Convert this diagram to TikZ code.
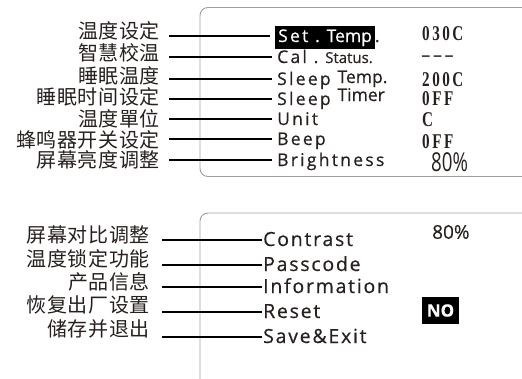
\documentclass[tikz,border=0pt]{standalone}
\usepackage{fontspec}
\newfontfamily\zhfont[LetterSpace=3]{Noto Sans CJK SC}
\newfontfamily\menufont[LetterSpace=13,FakeBold=0.5]{Open Sans}
\newfontfamily\listfont[LetterSpace=9,FakeBold=0.5]{Open Sans}
\newfontfamily\plainfont[FakeBold=0.4]{Open Sans}
\newfontfamily\valfont[FakeStretch=0.72,LetterSpace=12]{Liberation Serif}
\newfontfamily\pctfont[FakeStretch=0.72]{Open Sans}
\definecolor{ink}{RGB}{38,32,30}
\usetikzlibrary{positioning}

\begin{document}
\begin{tikzpicture}[x=1pt, y=-1pt,
  zh/.style={anchor=east, inner sep=0pt, text=ink,
             font=\zhfont\fontsize{20}{20}\selectfont},
  item/.style={anchor=west, inner sep=0pt, text height=12pt, text depth=0pt,
               text=ink, font=\menufont\fontsize{17.5}{17.5}\selectfont},
  entry/.style={item, font=\listfont\fontsize{19.5}{19.5}\selectfont},
  val/.style={anchor=west, inner sep=0pt, text=ink,
              font=\valfont\bfseries\fontsize{21}{21}\selectfont},
  lead/.style={line width=1.4pt, shorten <=9pt, shorten >=5pt},
  panel/.style={draw=gray!75, line width=0.9pt, rounded corners=8pt}]
  \clip (0,0) rectangle (522,378);
  \draw[panel] (200,7.5) rectangle (545,176.5);
  \draw[panel] (200,213) rectangle (545,420);

  \node[zh] (zset) at (160,31) {温度设定};
  \node[zh] (zcal) at (160,53) {智慧校温};
  \node[zh] (zstemp) at (160,76) {睡眠温度};
  \node[zh] (zstimer) at (160,97) {睡眠时间设定};
  \node[zh] (zunit) at (160,119) {温度單位};
  \node[zh] (zbeep) at (160,140) {蜂鸣器开关设定};
  \node[zh] (zbright) at (160,160) {屏幕亮度调整};

  \node[item] (settemp) at (275,36) {\colorbox{black}{\color{white}Set .~{\plainfont Temp}}.};
  \node[item] (cal) at (277,57) {Cal .~{\plainfont\fontsize{15}{15}\selectfont Status.}};
  \node[item] (stemp) at (277,79) {Sleep~\raisebox{2pt}{\plainfont Temp.}};
  \node[item] (stimer) at (277,99) {Sleep~\raisebox{4pt}{\plainfont Timer}};
  \node[item] (unit) at (277,119) {Unit};
  \node[item] (beep) at (277,139) {Beep};
  \node[item] (bright) at (277,160) {Brightness};

  \node[val] (vset) at (422,34) {030C};
  \node[val] (vcal) at (422,59) {–\hspace{4pt}–\hspace{4pt}–};
  \node[val] (vstemp) at (422,80) {200C};
  \node[val] (vstimer) at (422,99) {0FF};
  \node[val] (vunit) at (422,120) {C};
  \node[val] (vbeep) at (422,142) {0FF};
  \node[anchor=west, inner sep=0pt, text=ink,
        font=\pctfont\fontsize{26}{26}\selectfont] (vbright) at (431,162) {80\%};

  \draw[lead] (settemp.west -| zset.east) -- (settemp.west);
  \draw[lead] (cal.west -| zcal.east) -- (cal.west);
  \draw[lead] (stemp.west -| zstemp.east) -- (stemp.west);
  \draw[lead] (stimer.west -| zstimer.east) -- (stimer.west);
  \draw[lead] (unit.west -| zunit.east) -- (unit.west);
  \draw[lead] (beep.west -| zbeep.east) -- (beep.west);
  \draw[lead] (bright.west -| zbright.east) -- (bright.west);

  \node[zh] (zcontrast) at (150,235) {屏幕对比调整};
  \node[zh] (zpass) at (150,259) {温度锁定功能};
  \node[zh] (zinfo) at (150,282) {产品信息};
  \node[zh] (zreset) at (150,305) {恢复出厂设置};
  \node[zh] (zsave) at (150,329) {储存并退出};

  \node[entry] (contrast) at (263,240) {Contrast};
  \node[entry] (pass) at (263,265) {Passcode};
  \node[entry] (info) at (263,287) {Information};
  \node[entry] (reset) at (263,312) {Reset};
  \node[entry] (save) at (263,337) {Save\&Exit};

  \node[anchor=west, inner sep=0pt, text=ink,
        font=\plainfont\fontsize{19}{19}\selectfont] (vcontrast) at (432,232) {80\%};
  \node[fill=black, text=white, inner sep=0pt, minimum width=37pt, minimum height=27pt,
        font=\plainfont\bfseries\fontsize{17}{17}\selectfont] (vreset) at (440.5,310.5) {NO};

  \draw[lead, shorten <=12pt, shorten >=1pt] (contrast.west -| zcontrast.east) -- (contrast.west);
  \draw[lead, shorten <=12pt, shorten >=1pt] (pass.west -| zpass.east) -- (pass.west);
  \draw[lead, shorten <=12pt, shorten >=1pt] (info.west -| zinfo.east) -- (info.west);
  \draw[lead, shorten <=12pt, shorten >=1pt] (reset.west -| zreset.east) -- (reset.west);
  \draw[lead, shorten <=12pt, shorten >=1pt] (save.west -| zsave.east) -- (save.west);
\end{tikzpicture}
\end{document}
